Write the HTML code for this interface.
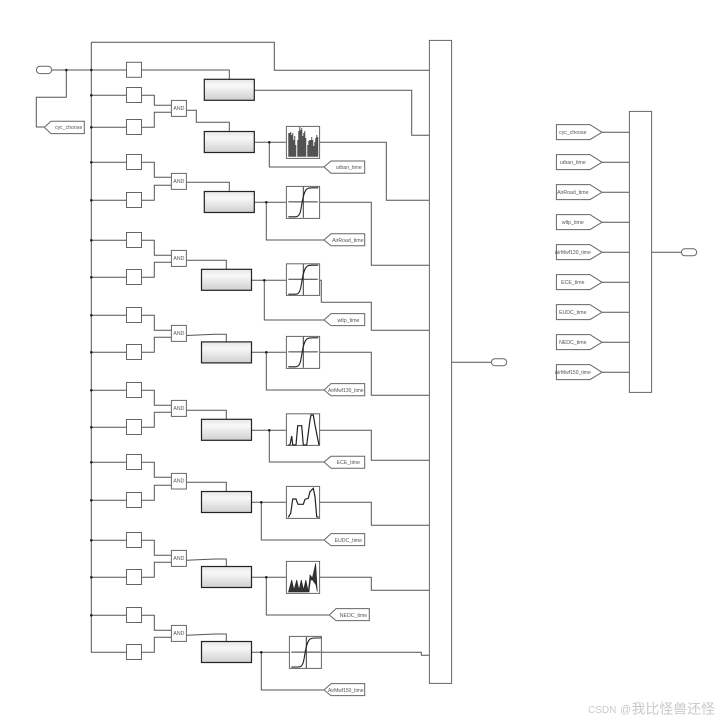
<!DOCTYPE html>
<html>
<head>
<meta charset="utf-8">
<style>
html,body{margin:0;padding:0;background:#fff;}
svg{display:block;}
text{font-family:"Liberation Sans",sans-serif;font-size:5.2px;fill:#555;text-anchor:middle;}
.wm{font-family:"Liberation Sans","Noto Sans CJK SC",sans-serif;fill:#c9c9c9;text-anchor:start;}
</style>
</head>
<body>
<svg width="726" height="722" viewBox="0 0 726 722" xmlns="http://www.w3.org/2000/svg">
<defs>
<linearGradient id="g" x1="0" y1="0" x2="0" y2="1">
<stop offset="0" stop-color="#e6e6e6"/><stop offset=".3" stop-color="#f8f8f8"/><stop offset="1" stop-color="#cfcfcf"/>
</linearGradient>
<g id="sig">
<path d="M2 15.6H31.5M17 .5V31.5" fill="none" stroke="#3a3a3a" stroke-width="1"/>
<path d="M2 30.5H9C13 30.5 14 27 15 21C16.5 11 18 4 21 2.5C22.5 1.5 24 1.5 26 1.5H32" fill="none" stroke="#222" stroke-width="1.1"/>
</g>
</defs>

<!-- wires -->
<path fill="none" stroke="#555" stroke-width="1" d="
M51.7 70H126.3M66.3 70V97.3H36.3V127H44.3
M91.3 42.3V652.3H126.3
M91.3 42.3H274.3V70.3H429.3
M91.3 95.3H126.3M91.3 127.3H126.3M91.3 162.3H126.3M91.3 200.3H126.3M91.3 240.3H126.3M91.3 277.3H126.3M91.3 315.3H126.3M91.3 352.3H126.3M91.3 390.3H126.3M91.3 427.3H126.3M91.3 462.3H126.3M91.3 500.3H126.3M91.3 540.3H126.3M91.3 577.3H126.3M91.3 615.3H126.3

M141.7 70H229.3V79
M141.7 95.3H154.3V105.3H171.3M141.7 127.3H154.3V112.3H171.3
M186.7 110.3H196.3V122.3H229.3V131.3
M141.7 162.3H154.3V177.3H171.3M141.7 200.3H154.3V185.3H171.3
M186.7 182.3H229.3V191.3
M141.7 240.3H154.3V255.3H171.3M141.7 277.3H154.3V262.3H171.3
M186.7 260.3H226.3V269
M141.7 315.3H154.3V330.3H171.3M141.7 352.3H154.3V337.3H171.3
M186.7 335.5L215 334.3H226.3V341.7
M141.7 390.3H154.3V405.3H171.3M141.7 427.3H154.3V412.3H171.3
M186.7 410.3H226.3V419
M141.7 462.3H154.3V477.3H171.3M141.7 500.3H154.3V485.3H171.3
M186.7 482.3H226.3V491.3
M141.7 540.3H154.3V555.3H171.3M141.7 577.3H154.3V562.3H171.3
M186.7 560.3L215 559H226.3V566.3
M141.7 615.3H154.3V630.3H171.3M141.7 652.3H154.3V637.3H171.3
M186.7 635.3L215 634H226.3V641.3

M254.3 90.3H411.7V135.3H429.3
M254.3 142.3H286.3M269.3 142.3V167H324M319.7 142.3H386.3V200.3H429.3
M254.3 202.3H286.3M266.3 202.3V240H324M319.7 202.3H371.3V265.3H429.3
M251.7 280.3H286.3M264.3 280.3V320H324M319.7 280.3H321.3V302.3H371.3V330.3H429.3
M251.7 352.3H286.3M266.3 352.3V390H324M319.7 352.3H371.3V395.3H429.3
M251.7 430.3H286.3M269.3 430.3V462H324M319.7 430.3H371.3V460.3H429.3
M251.7 502.3H286.3M261.3 502.3V540H324M319.7 502.3H371.3V525.3H429.3
M251.7 577.3H286.3M266.3 577.3V615H329.3M319.7 577.3H371.3V590.3H429.3
M251.7 652.3H289.3M261.3 652.3V690H324M321.3 652.3H421.3V655.3H429.3
M451.7 362.3H491.3
M602 132.3H629.3M602 162.3H629.3M602 192.3H629.3M602 222.3H629.3M602 252.3H629.3M602 282.3H629.3M602 312.3H629.3M602 342.3H629.3M602 372.3H629.3
M651.7 252.3H681.3"/>

<!-- junctions -->
<g fill="#222">
<circle cx="66.3" cy="70" r="1.3"/>
<circle cx="91.3" cy="70" r="1.3"/><circle cx="91.3" cy="95.3" r="1.3"/><circle cx="91.3" cy="127.3" r="1.3"/><circle cx="91.3" cy="162.3" r="1.3"/><circle cx="91.3" cy="200.3" r="1.3"/><circle cx="91.3" cy="240.3" r="1.3"/><circle cx="91.3" cy="277.3" r="1.3"/><circle cx="91.3" cy="315.3" r="1.3"/><circle cx="91.3" cy="352.3" r="1.3"/><circle cx="91.3" cy="390.3" r="1.3"/><circle cx="91.3" cy="427.3" r="1.3"/><circle cx="91.3" cy="462.3" r="1.3"/><circle cx="91.3" cy="500.3" r="1.3"/><circle cx="91.3" cy="540.3" r="1.3"/><circle cx="91.3" cy="577.3" r="1.3"/><circle cx="91.3" cy="615.3" r="1.3"/>
<circle cx="269.3" cy="142.3" r="1.3"/><circle cx="266.3" cy="202.3" r="1.3"/><circle cx="264.3" cy="280.3" r="1.3"/><circle cx="266.3" cy="352.3" r="1.3"/><circle cx="269.3" cy="430.3" r="1.3"/><circle cx="261.3" cy="502.3" r="1.3"/><circle cx="266.3" cy="577.3" r="1.3"/><circle cx="261.3" cy="652.3" r="1.3"/>
</g>

<!-- small boxes -->
<g fill="#fff" stroke="#666" stroke-width="1">
<rect x="126.5" y="62.3" width="15" height="15"/><rect x="126.5" y="87.5" width="15" height="15"/><rect x="126.5" y="119.5" width="15" height="15"/>
<rect x="126.5" y="154.5" width="15" height="15"/><rect x="126.5" y="192.5" width="15" height="15"/>
<rect x="126.5" y="232.5" width="15" height="15"/><rect x="126.5" y="269.5" width="15" height="15"/>
<rect x="126.5" y="307.5" width="15" height="15"/><rect x="126.5" y="344.5" width="15" height="15"/>
<rect x="126.5" y="382.5" width="15" height="15"/><rect x="126.5" y="419.5" width="15" height="15"/>
<rect x="126.5" y="454.5" width="15" height="15"/><rect x="126.5" y="492.5" width="15" height="15"/>
<rect x="126.5" y="532.5" width="15" height="15"/><rect x="126.5" y="569.5" width="15" height="15"/>
<rect x="126.5" y="607.5" width="15" height="15"/><rect x="126.5" y="644.5" width="15" height="15"/>
<!-- AND -->
<rect x="171.4" y="100.4" width="15" height="16"/><rect x="171.4" y="173.4" width="15" height="16"/><rect x="171.4" y="250.4" width="15" height="16"/><rect x="171.4" y="325.4" width="15" height="16"/><rect x="171.4" y="400.4" width="15" height="16"/><rect x="171.4" y="473.4" width="15" height="15.6"/><rect x="171.4" y="550.4" width="15" height="16"/><rect x="171.4" y="625.4" width="15" height="16"/>
<!-- buses -->
<rect x="429.4" y="40.4" width="22.2" height="643"/>
<rect x="629.4" y="111.4" width="22.2" height="281"/>
<!-- pills -->
<rect x="36.4" y="66.2" width="15.3" height="7.4" rx="3.7"/>
<rect x="491.4" y="358.7" width="15.3" height="7" rx="3.5"/>
<rect x="681.4" y="248.8" width="15.3" height="7" rx="3.5"/>
<!-- left tags -->
<path d="M44.3 127.3L51 121.2H84.3V133.6H51Z"/>
<path d="M324 167L331 161H364.7V173.3H331Z"/>
<path d="M324 240L331 233.8H364.7V245.8H331Z"/>
<path d="M324 320L331 313.6H364.7V325.6H331Z"/>
<path d="M324 390L331 383.6H364.7V395.8H331Z"/>
<path d="M324 462L331 456.3H364.7V468.3H331Z"/>
<path d="M324 540L331 533.6H364.7V545.6H331Z"/>
<path d="M329.3 615L336 608.6H369.3V620.6H336Z"/>
<path d="M324 690L331 683.6H364.7V695.6H331Z"/>
<!-- right tags -->
<path d="M556.4 124.6H590L602 132.3L590 139.6H556.4Z"/>
<path d="M556.4 154.6H590L602 162.3L590 169.6H556.4Z"/>
<path d="M556.4 184.6H590L602 192.3L590 199.6H556.4Z"/>
<path d="M556.4 214.6H590L602 222.3L590 229.6H556.4Z"/>
<path d="M556.4 244.6H590L602 252.3L590 259.6H556.4Z"/>
<path d="M556.4 274.6H590L602 282.3L590 289.6H556.4Z"/>
<path d="M556.4 304.6H590L602 312.3L590 319.6H556.4Z"/>
<path d="M556.4 334.6H590L602 342.3L590 349.6H556.4Z"/>
<path d="M556.4 364.6H590L602 372.3L590 379.6H556.4Z"/>
<!-- scopes -->
<rect x="286.4" y="126.4" width="33.2" height="32"/>
<rect x="286.4" y="186.4" width="33.2" height="32"/>
<rect x="286.4" y="263.8" width="33.2" height="31.6"/>
<rect x="286.4" y="336.4" width="33.2" height="32"/>
<rect x="286.4" y="413.8" width="33.2" height="31.6"/>
<rect x="286.4" y="486.4" width="33.2" height="32"/>
<rect x="286.4" y="561.4" width="33.2" height="32"/>
<rect x="289.4" y="636.4" width="32" height="32"/>
</g>

<!-- main blocks -->
<g fill="url(#g)" stroke="#222" stroke-width="1.2">
<rect x="204.3" y="79.3" width="50" height="21"/>
<rect x="204.3" y="131.5" width="50" height="21"/>
<rect x="204.3" y="191.5" width="50" height="21"/>
<rect x="201.5" y="269.3" width="50" height="21"/>
<rect x="201.5" y="341.9" width="50" height="21"/>
<rect x="201.5" y="419.3" width="50" height="21"/>
<rect x="201.5" y="491.5" width="50" height="21"/>
<rect x="201.5" y="566.5" width="50" height="21"/>
<rect x="201.5" y="641.5" width="50" height="21"/>
</g>

<!-- scope plots -->
<use href="#sig" transform="translate(286.3 186.3)"/>
<use href="#sig" transform="translate(286.3 263.7)"/>
<use href="#sig" transform="translate(286.3 336.3)"/>
<use href="#sig" transform="translate(289.3 636.5)"/>

<path fill="none" stroke="#333" stroke-width=".85" d="M288.8 156.8V133M289.8 156.8V133M290.8 156.8V132M291.8 156.8V135M292.8 156.8V133M293.8 156.8V140M294.8 156.8V136M295.8 156.8V145M297.8 156.8V140M298.8 156.8V131M299.8 156.8V127M300.8 156.8V130M301.8 156.8V128M302.8 156.8V136M303.8 156.8V133M304.8 156.8V131M305.8 156.8V138M307.8 156.8V145M308.8 156.8V141M309.8 156.8V140M310.8 156.8V140M311.8 156.8V137M312.8 156.8V140M313.8 156.8V146M314.8 156.8V142M315.8 156.8V138M316.8 156.8V135M317.8 156.8V137"/>
<path fill="none" stroke="#222" stroke-width="1.2" d="M288.3 445H290L291.7 436L292.7 445H296L297.7 425.7H301.7L303.3 445H306.7L310 420L311 415H313.3L315 425L317.3 436.7L319 445"/>
<path fill="none" stroke="#222" stroke-width="1.2" d="M288.3 517.3L290.7 513.3L292.7 499H296L298 504.3H303.3L305 499.3L308.3 498.3L310 491.7L313.3 488.3L315 496.7L316.7 516.7L318.7 517.3"/>
<path fill="#333" stroke="#222" stroke-width=".6" d="M288.5 592L291.7 580L294 590L296.7 580L299 590L301.3 580L303.6 590L305.8 580L308.3 591.5L310 575L312.4 578L315.7 563.3L317.3 591.7L316 585L312.6 580L310.5 580L309 592Z"/>

<!-- labels -->
<text x="178.9" y="110">AND</text>
<text x="178.9" y="183">AND</text>
<text x="178.9" y="260.2">AND</text>
<text x="178.9" y="335.2">AND</text>
<text x="178.9" y="410.2">AND</text>
<text x="178.9" y="482.7">AND</text>
<text x="178.9" y="560.2">AND</text>
<text x="178.9" y="635.2">AND</text>

<text x="68.7" y="129.2">cyc_choose</text>
<text x="348.8" y="169">urban_time</text>
<text x="347.8" y="241.8">AirRoad_time</text>
<text x="348.5" y="321.8">wltp_time</text>
<text x="345.8" y="391.8" textLength="35.5" lengthAdjust="spacingAndGlyphs">AirMwf130_time</text>
<text x="348.3" y="464.2">ECE_time</text>
<text x="348.3" y="541.8">EUDC_time</text>
<text x="353.5" y="616.8">NEDC_time</text>
<text x="345.8" y="691.8" textLength="35.5" lengthAdjust="spacingAndGlyphs">AirMwf150_time</text>

<text x="572.8" y="134">cyc_choose</text>
<text x="572.8" y="164">urban_time</text>
<text x="572.8" y="194">AirRoad_time</text>
<text x="572.8" y="224">wltp_time</text>
<text x="572.8" y="254" textLength="36" lengthAdjust="spacingAndGlyphs">AirMwf130_time</text>
<text x="572.8" y="284">ECE_time</text>
<text x="572.8" y="314">EUDC_time</text>
<text x="572.8" y="344">NEDC_time</text>
<text x="572.8" y="374" textLength="36" lengthAdjust="spacingAndGlyphs">AirMwf150_time</text>

<text class="wm" x="588" y="713" style="font-size:10px">CSDN</text>
<text class="wm" x="620" y="713" style="font-size:11px">@</text>
<text class="wm" x="631.5" y="713.5" style="font-size:13.9px">我比怪兽还怪</text>
</svg>
</body>
</html>
